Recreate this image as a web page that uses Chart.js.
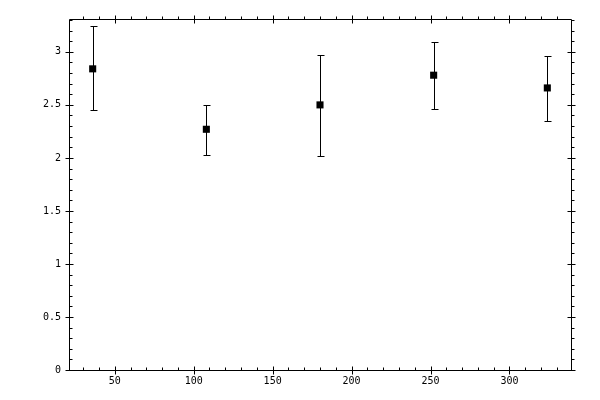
<!DOCTYPE html>
<html>
<head>
<meta charset="utf-8">
<script src="https://cdn.jsdelivr.net/npm/chart.js@4.4.1/dist/chart.umd.min.js"></script>
<style>
  html, body { margin: 0; padding: 0; background: #fff; }
  #wrap { width: 600px; height: 400px; position: relative; }
</style>
</head>
<body>
<div id="wrap"><canvas id="chart"></canvas></div>
<script>
const X_VALUES = [36, 108, 180, 252, 324];
const Y_VALUES = [2.84, 2.27, 2.50, 2.78, 2.66];
const Y_UPPER = [3.24, 2.50, 2.97, 3.09, 2.96];
const Y_LOWER = [2.45, 2.03, 2.02, 2.46, 2.35];

const X_TICKS = [50, 100, 150, 200, 250, 300];
const Y_TICKS = [0, 0.5, 1, 1.5, 2, 2.5, 3];

const X_MIN = 21, X_MAX = 339;
const Y_MIN = 0, Y_MAX = 3.31;

const tickFont = { family: 'DejaVu Sans Mono', size: 10 };

// box frame with major/minor tick marks on all four sides
const frameTicks = {
    id: 'frameTicks',
    afterDraw(chart) {
        const { ctx, chartArea: a, scales: { x, y } } = chart;
        const L = Math.round(a.left) + 0.5, R = Math.round(a.right) + 0.5;
        const T = Math.round(a.top) + 0.5, B = Math.round(a.bottom) + 0.5;
        ctx.save();
        ctx.strokeStyle = '#000';
        ctx.lineWidth = 1;
        ctx.beginPath();
        ctx.rect(L, T, R - L, B - T);

        for (let v = 30; v < X_MAX; v += 10) {
            const px = Math.round(x.getPixelForValue(v)) + 0.5;
            if (v % 50 === 0) {
                ctx.moveTo(px, B - 4); ctx.lineTo(px, B + 4);
                ctx.moveTo(px, T - 4); ctx.lineTo(px, T + 4);
            } else {
                ctx.moveTo(px, B - 3); ctx.lineTo(px, B);
                ctx.moveTo(px, T - 3); ctx.lineTo(px, T);
            }
        }
        for (let i = 0; i <= 33; i++) {
            const py = Math.round(y.getPixelForValue(i / 10)) + 0.5;
            if (i % 5 === 0) {
                ctx.moveTo(L - 4, py); ctx.lineTo(L + 4, py);
                ctx.moveTo(R - 4, py); ctx.lineTo(R + 4, py);
            } else {
                ctx.moveTo(L, py); ctx.lineTo(L + 3, py);
                ctx.moveTo(R, py); ctx.lineTo(R + 3, py);
            }
        }
        ctx.stroke();
        ctx.restore();
    }
};

const errorBars = {
    id: 'errorBars',
    beforeDatasetsDraw(chart) {
        const { ctx, scales: { x, y } } = chart;
        ctx.save();
        ctx.strokeStyle = '#000';
        ctx.lineWidth = 1;
        ctx.beginPath();
        X_VALUES.forEach((xv, i) => {
            const px = Math.round(x.getPixelForValue(xv)) + 0.5;
            const top = Math.round(y.getPixelForValue(Y_UPPER[i])) + 0.5;
            const bot = Math.round(y.getPixelForValue(Y_LOWER[i])) + 0.5;
            ctx.moveTo(px, top); ctx.lineTo(px, bot);
            ctx.moveTo(px - 3, top); ctx.lineTo(px + 4, top);
            ctx.moveTo(px - 3, bot); ctx.lineTo(px + 4, bot);
        });
        ctx.stroke();
        ctx.restore();
    }
};

new Chart(document.getElementById('chart'), {
    type: 'scatter',
    data: {
        datasets: [{
            data: X_VALUES.map((xv, i) => ({ x: xv, y: Y_VALUES[i] })),
            pointStyle: 'rect',
            pointRadius: 5,
            pointBackgroundColor: '#000',
            pointBorderColor: '#000',
            pointBorderWidth: 0
        }]
    },
    options: {
        responsive: true,
        maintainAspectRatio: false,
        animation: false,
        layout: { padding: { top: 19, right: 29, left: 0, bottom: 0 } },
        plugins: { legend: { display: false }, tooltip: { enabled: false } },
        scales: {
            x: {
                type: 'linear',
                min: X_MIN,
                max: X_MAX,
                grid: { display: false, drawTicks: false },
                border: { display: false },
                afterBuildTicks: s => { s.ticks = X_TICKS.map(v => ({ value: v })); },
                afterFit: s => { s.height = 30; },
                ticks: { color: '#000', font: tickFont, padding: 5, maxRotation: 0, callback: v => String(v) }
            },
            y: {
                min: Y_MIN,
                max: Y_MAX,
                grid: { display: false, drawTicks: false },
                border: { display: false },
                afterBuildTicks: s => { s.ticks = Y_TICKS.map(v => ({ value: v })); },
                afterFit: s => { s.width = 69; },
                ticks: { color: '#000', font: tickFont, padding: 8, callback: v => String(v) }
            }
        }
    },
    plugins: [frameTicks, errorBars]
});
</script>
</body>
</html>
